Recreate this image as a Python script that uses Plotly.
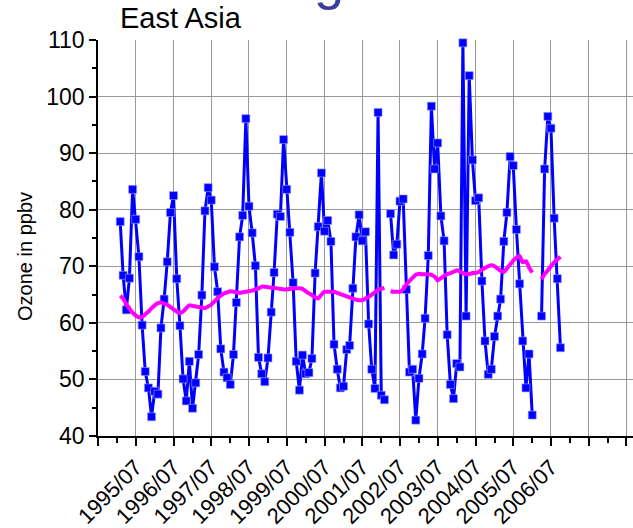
import plotly.graph_objects as go
import pandas as pd

# ---------------- data ----------------
start_month = "1995-02-01"
n_months = 141

ozone = [
    77.9, 68.4, 62.3, 67.9, 83.6, 78.3, 71.7, 59.6, 51.4, 48.5, 43.4, 47.9,
    47.4, 59.1, 64.2, 70.8, 79.5, 82.5, 67.8, 59.5, 50.1, 46.2, 53.2, 44.9,
    49.4, 54.4, 64.9, 79.8, 83.9, 81.7, 69.9, 65.5, 55.4, 51.3, 50.3, 49.1,
    54.4, 63.6, 75.2, 79.0, 96.1, 80.6, 75.9, 70.1, 53.9, 51.0, 49.6, 53.8,
    61.9, 68.9, 79.2, 78.8, 92.4, 83.6, 76.0, 67.1, 53.2, 48.1, 54.3, 51.0,
    51.2, 53.7, 68.8, 77.0, 86.5, 76.2, 78.1, 74.4, 56.2, 51.8, 48.5, 48.8,
    55.3, 56.0, 66.1, 75.2, 79.1, 74.5, 76.1, 59.8, 51.8, 48.4, 97.2, 47.2,
    46.4, None, 79.3, 72.0, 73.9, 81.5, 81.9, 65.9, 51.3, 51.8, 42.8, 50.2,
    54.5, 60.8, 71.9, 98.3, 87.2, 91.8, 78.9, 74.5, 57.9, 49.1, 46.6, 52.8,
    52.2, 109.5, 61.2, 103.7, 88.8, 81.6, 82.1, 67.4, 56.8, 50.9, 51.8, 57.6,
    61.2, 64.2, 74.4, 79.5, 89.4, 87.8, 76.5, 66.9, 56.8, 48.5, 54.5, 43.7,
    None, None, 61.2, 87.2, 96.5, 94.4, 78.5, 67.8, 55.6,
]

ozone_smooth = [
    64.8, 64.3, 63.3, 62.5, 61.8, 61.3, 61.0, 61.0, 61.5, 62.0, 62.6, 63.1,
    63.5, 63.6, 63.4, 63.2, 62.8, 62.4, 62.0, 61.7, 62.0, 62.6, 63.1, 63.0,
    62.9, 62.8, 62.7, 62.6, 62.9, 63.2, 63.8, 64.4, 64.8, 65.2, 65.4, 65.6,
    65.5, 65.4, 65.3, 65.4, 65.5, 65.6, 65.7, 65.9, 66.1, 66.4, 66.4, 66.3,
    66.2, 66.2, 66.1, 66.0, 65.9, 65.9, 66.0, 66.1, 66.1, 66.1, 66.0, 65.6,
    65.2, 64.9, 64.5, 64.3, 65.0, 65.5, 65.5, 65.5, 65.5, 65.3, 65.1, 64.9,
    64.7, 64.5, 64.3, 64.1, 64.0, 64.0, 64.3, 64.6, 65.0, 65.4, 65.8, 66.0,
    66.2, None, 65.6, 65.5, 65.5, 65.5, 65.9, 66.8, 67.4, 68.0, 68.5, 68.7,
    68.6, 68.6, 68.6, 68.5, 68.2, 67.5, 67.9, 68.3, 68.6, 68.8, 69.0, 69.3,
    69.1, 68.8, 68.6, 68.6, 68.8, 68.8, 69.0, 69.4, 69.7, 70.0, 70.2, 70.0,
    69.6, 69.2, 69.0, 69.6, 70.3, 71.0, 71.5, 71.8, 70.7, 70.9, 69.8, 68.9,
    None, None, 67.7, 68.6, 69.3, 70.0, 70.7, 71.2, 71.7,
]

tick_dates = [f"{y}-07-01" for y in range(1994, 2009)]
tick_labels = ["", "1995/07", "1996/07", "1997/07", "1998/07", "1999/07",
               "2000/07", "2001/07", "2002/07", "2003/07", "2004/07",
               "2005/07", "2006/07", "", ""]
minor_dates = [f"{y}-01-01" for y in range(1995, 2009)]
y_ticks = [40, 50, 60, 70, 80, 90, 100, 110]
y_grid = [50, 60, 70, 80, 90, 100]
y_minor = [45, 55, 65, 75, 85, 95, 105]

months = pd.date_range(start_month, periods=n_months, freq="MS")

# ---------------- figure ----------------
FONT = "Liberation Sans, Arial, sans-serif"
fig = go.Figure()

fig.add_trace(go.Scatter(
    x=months, y=ozone, mode="lines+markers",
    line=dict(color="#0000ff", width=3),
    marker=dict(symbol="square", size=8, color="#0000ff",
                line=dict(color="#9a9aff", width=0.6)),
    connectgaps=False, cliponaxis=False, showlegend=False,
))
fig.add_trace(go.Scatter(
    x=months, y=ozone_smooth, mode="lines",
    line=dict(color="#ff00ff", width=4, shape="spline", smoothing=0.6),
    connectgaps=False, showlegend=False,
))
# horizontal grid on an overlay axis (no grid line at the top edge)
fig.add_trace(go.Scatter(x=[months[0]], y=[None], yaxis="y2",
                         showlegend=False, hoverinfo="skip"))

fig.update_layout(
    width=633, height=528,
    margin=dict(l=98, r=0, t=39.5, b=91.5),
    plot_bgcolor="white", paper_bgcolor="white",
    font=dict(family=FONT, color="black"),
    xaxis=dict(
        range=["1994-07-01", "2008-09-02"],
        tickmode="array", tickvals=tick_dates, ticktext=tick_labels,
        tickangle=-45, tickfont=dict(size=22, family=FONT, color="black"),
        ticks="outside", ticklen=8, tickwidth=1.5, tickcolor="black",
        showline=True, linecolor="black", linewidth=1.5,
        showgrid=True, gridcolor="#999999", gridwidth=1,
        zeroline=False, automargin=False,
        minor=dict(tickmode="array", tickvals=minor_dates, ticks="outside",
                   ticklen=5, tickwidth=1.5, tickcolor="black", showgrid=False),
    ),
    yaxis=dict(
        range=[40, 110],
        tickmode="array", tickvals=y_ticks,
        tickfont=dict(size=23, family=FONT, color="black"),
        ticks="outside", ticklen=7, tickwidth=1.5, tickcolor="black",
        showline=True, linecolor="black", linewidth=1.5,
        showgrid=False, zeroline=False, automargin=False,
        minor=dict(tickmode="array", tickvals=y_minor, ticks="outside",
                   ticklen=4, tickwidth=1.5, tickcolor="black", showgrid=False),
    ),
    yaxis2=dict(
        range=[40, 110], overlaying="y", side="left",
        tickmode="array", tickvals=y_grid, showticklabels=False, ticks="",
        showgrid=True, gridcolor="#999999", gridwidth=1,
        showline=False, zeroline=False, layer="below traces",
    ),
    annotations=[
        dict(text="East Asia", xref="paper", yref="paper",
             x=(118 - 98) / 535, y=(436.5 - 35) / 397,
             xanchor="left", yanchor="bottom", showarrow=False,
             font=dict(size=29, family=FONT, color="black")),
        dict(text="Ozone in ppbv", xref="paper", yref="paper",
             x=(25 - 98) / 535, y=(436.5 - 257) / 397, textangle=-90,
             xanchor="center", yanchor="middle", showarrow=False,
             font=dict(size=20, family=FONT, color="black")),
        dict(text="g", xref="paper", yref="paper",
             x=(329 - 98) / 535, y=(436.5 - 11) / 397,
             xanchor="center", yanchor="bottom", showarrow=False,
             font=dict(size=54, family=FONT, color="#3c3c9c")),
    ],
)

fig.write_html("out.html",
               config={"displayModeBar": False},
               post_script="document.body.style.margin='0px';"
                           "document.body.style.overflow='hidden';")
